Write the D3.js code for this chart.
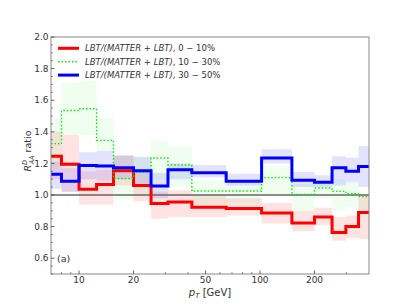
<!DOCTYPE html>
<html>
<head>
<meta charset="utf-8">
<script src="https://cdn.jsdelivr.net/npm/d3@7"></script>
<style>
  body { margin: 0; background: #fff; }
  text { font-family: "DejaVu Sans", sans-serif; fill: #333; }
</style>
</head>
<body>
<svg id="chart" width="411" height="308"></svg>
<script>
// --- data (pT bin edges in GeV, ratio per bin) ---
const edges = [7, 8, 10, 12.5, 15.5, 20, 25, 31, 42, 65, 102, 150, 200, 250, 298, 350, 400];

const red   = [1.246, 1.194, 1.036, 1.066, 1.154, 1.060, 0.946, 0.956, 0.922, 0.914, 0.886, 0.823, 0.861, 0.762, 0.800, 0.889];
const redHi = [1.40, 1.38, 1.15, 1.16, 1.25, 1.15, 1.02, 1.03, 1.00, 0.98, 0.95, 0.90, 0.92, 0.86, 0.87, 1.00];
const redLo = [1.10, 1.02, 0.94, 0.94, 1.06, 0.96, 0.85, 0.86, 0.86, 0.87, 0.82, 0.77, 0.81, 0.71, 0.73, 0.72];

const green   = [1.325, 1.535, 1.546, 1.346, 1.104, 1.145, 1.234, 1.190, 1.025, 1.025, 1.110, 1.004, 1.044, 1.023, 1.008, 0.990];
const greenHi = [1.49, 1.71, 1.72, 1.49, 1.25, 1.245, 1.345, 1.31, 1.09, 1.09, 1.18, 1.07, 1.09, 1.10, 1.08, 1.01];
const greenLo = [1.18, 1.38, 1.38, 1.28, 0.97, 0.99, 1.10, 1.05, 0.94, 0.95, 1.00, 0.90, 0.98, 0.90, 0.92, 0.90];

const blue   = [1.131, 1.087, 1.186, 1.183, 1.173, 1.154, 1.057, 1.160, 1.141, 1.087, 1.234, 1.093, 1.080, 1.173, 1.150, 1.181];
const blueHi = [1.21, 1.17, 1.27, 1.28, 1.25, 1.24, 1.14, 1.20, 1.19, 1.135, 1.29, 1.145, 1.125, 1.245, 1.235, 1.31];
const blueLo = [1.04, 1.02, 1.10, 1.09, 1.10, 1.07, 0.98, 1.10, 1.11, 1.06, 1.20, 1.05, 1.05, 1.06, 1.08, 1.05];

const xMajor = [10, 20, 50, 100, 200];
const xMinor = [8, 9, 30, 40, 60, 70, 80, 90, 300];
const yMajor = [0.6, 0.8, 1.0, 1.2, 1.4, 1.6, 1.8, 2.0];

const centralities = ['0 \u2212 10%', '10 \u2212 30%', '30 \u2212 50%'];

// --- layout ---
const svg = d3.select('#chart');
const L = 51, R = 369, T = 37, B = 274;

const x = d3.scaleLog().domain([7, 400]).range([L, R]);
const y = d3.scaleLinear().domain([0.5, 2.0]).range([B, T]);

// step-after points: one per edge, last edge repeats the last bin value
function stepPoints(vals) {
  return edges.map((e, i) => ({ x: e, v: vals[Math.min(i, vals.length - 1)] }));
}
function bandPoints(lo, hi) {
  return edges.map((e, i) => {
    const k = Math.min(i, lo.length - 1);
    return { x: e, lo: lo[k], hi: hi[k] };
  });
}

const line = d3.line().x(d => x(d.x)).y(d => y(d.v)).curve(d3.curveStepAfter);
const area = d3.area().x(d => x(d.x)).y0(d => y(d.lo)).y1(d => y(d.hi)).curve(d3.curveStepAfter);

const series = [
  { vals: red,   lo: redLo,   hi: redHi,   color: '#ff0000', alpha: 0.11, width: 3,   dash: null },
  { vals: green, lo: greenLo, hi: greenHi, color: '#00ee00', alpha: 0.06, width: 1.4, dash: '1.5,2' },
  { vals: blue,  lo: blueLo,  hi: blueHi,  color: '#0000ff', alpha: 0.11, width: 3,   dash: null }
];

svg.append('clipPath').attr('id', 'plotclip')
  .append('rect').attr('x', L).attr('y', T).attr('width', R - L).attr('height', B - T);

const plot = svg.append('g').attr('clip-path', 'url(#plotclip)');

// uncertainty bands
series.forEach(s => {
  plot.append('path')
    .attr('d', area(bandPoints(s.lo, s.hi)))
    .attr('fill', s.color)
    .attr('fill-opacity', s.alpha);
});

// reference line at 1
plot.append('line')
  .attr('x1', L).attr('x2', R)
  .attr('y1', y(1)).attr('y2', y(1))
  .attr('stroke', '#666').attr('stroke-width', 1.5);

// central lines
series.forEach(s => {
  plot.append('path')
    .attr('d', line(stepPoints(s.vals)))
    .attr('fill', 'none')
    .attr('stroke', s.color)
    .attr('stroke-width', s.width)
    .attr('stroke-dasharray', s.dash);
});

// frame
svg.append('rect')
  .attr('x', L).attr('y', T).attr('width', R - L).attr('height', B - T)
  .attr('fill', 'none').attr('stroke', '#888').attr('stroke-width', 1);

// y ticks (inward), minor every 0.05
const yMinor = d3.range(0.5, 2.0001, 0.05).filter(v => !yMajor.some(m => Math.abs(m - v) < 1e-6));
const gy = svg.append('g');
gy.selectAll('.ymaj').data(yMajor).enter().append('line')
  .attr('x1', L).attr('x2', L + 3.5)
  .attr('y1', d => y(d)).attr('y2', d => y(d))
  .attr('stroke', '#444').attr('stroke-width', 0.8);
gy.selectAll('.ymin').data(yMinor).enter().append('line')
  .attr('x1', L).attr('x2', L + 2)
  .attr('y1', d => y(d)).attr('y2', d => y(d))
  .attr('stroke', '#444').attr('stroke-width', 0.6);
gy.selectAll('text').data(yMajor).enter().append('text')
  .attr('x', L - 2.5).attr('y', d => y(d) + 3.2)
  .attr('text-anchor', 'end').attr('font-size', 9)
  .text(d => d.toFixed(1));

// x ticks (inward)
const gx = svg.append('g');
gx.selectAll('.xmaj').data(xMajor).enter().append('line')
  .attr('x1', d => x(d)).attr('x2', d => x(d))
  .attr('y1', B).attr('y2', B - 3.5)
  .attr('stroke', '#444').attr('stroke-width', 0.8);
gx.selectAll('.xmin').data(xMinor).enter().append('line')
  .attr('x1', d => x(d)).attr('x2', d => x(d))
  .attr('y1', B).attr('y2', B - 2)
  .attr('stroke', '#444').attr('stroke-width', 0.6);
gx.selectAll('text').data(xMajor).enter().append('text')
  .attr('x', d => x(d)).attr('y', B + 9)
  .attr('text-anchor', 'middle').attr('font-size', 9)
  .text(d => d);

// axis labels
const xl = svg.append('text')
  .attr('x', (L + R) / 2).attr('y', 296)
  .attr('text-anchor', 'middle').attr('font-size', 10);
xl.append('tspan').attr('font-style', 'italic').text('p');
xl.append('tspan').attr('font-style', 'italic').attr('font-size', 7).attr('dy', 2).text('T');
xl.append('tspan').attr('dy', -2).text(' [GeV]');

const yl = svg.append('text')
  .attr('transform', `translate(31,151) rotate(-90)`)
  .attr('text-anchor', 'middle').attr('font-size', 9.5);
yl.append('tspan').attr('font-style', 'italic').text('R');
yl.append('tspan').attr('font-style', 'italic').attr('font-size', 6.5).attr('dy', -4).text('D');
yl.append('tspan').attr('font-style', 'italic').attr('font-size', 6.5).attr('dx', -4.5).attr('dy', 7).text('AA');
yl.append('tspan').attr('dy', -3).text(' ratio');

// panel tag
svg.append('text').attr('x', 57).attr('y', 262).attr('font-size', 9.5).text('(a)');

// legend
const lg = svg.append('g');
series.forEach((s, i) => {
  const yy = 48.3 + i * 13.4;
  lg.append('line')
    .attr('x1', 58).attr('x2', 79).attr('y1', yy).attr('y2', yy)
    .attr('stroke', s.color).attr('stroke-width', s.width)
    .attr('stroke-dasharray', s.dash);
  const t = lg.append('text').attr('x', 85).attr('y', yy + 3).attr('font-size', 8.5);
  t.append('tspan').attr('font-style', 'italic').text('LBT/(MATTER + LBT)');
  t.append('tspan').text(', ' + centralities[i]);
});
</script>
</body>
</html>
